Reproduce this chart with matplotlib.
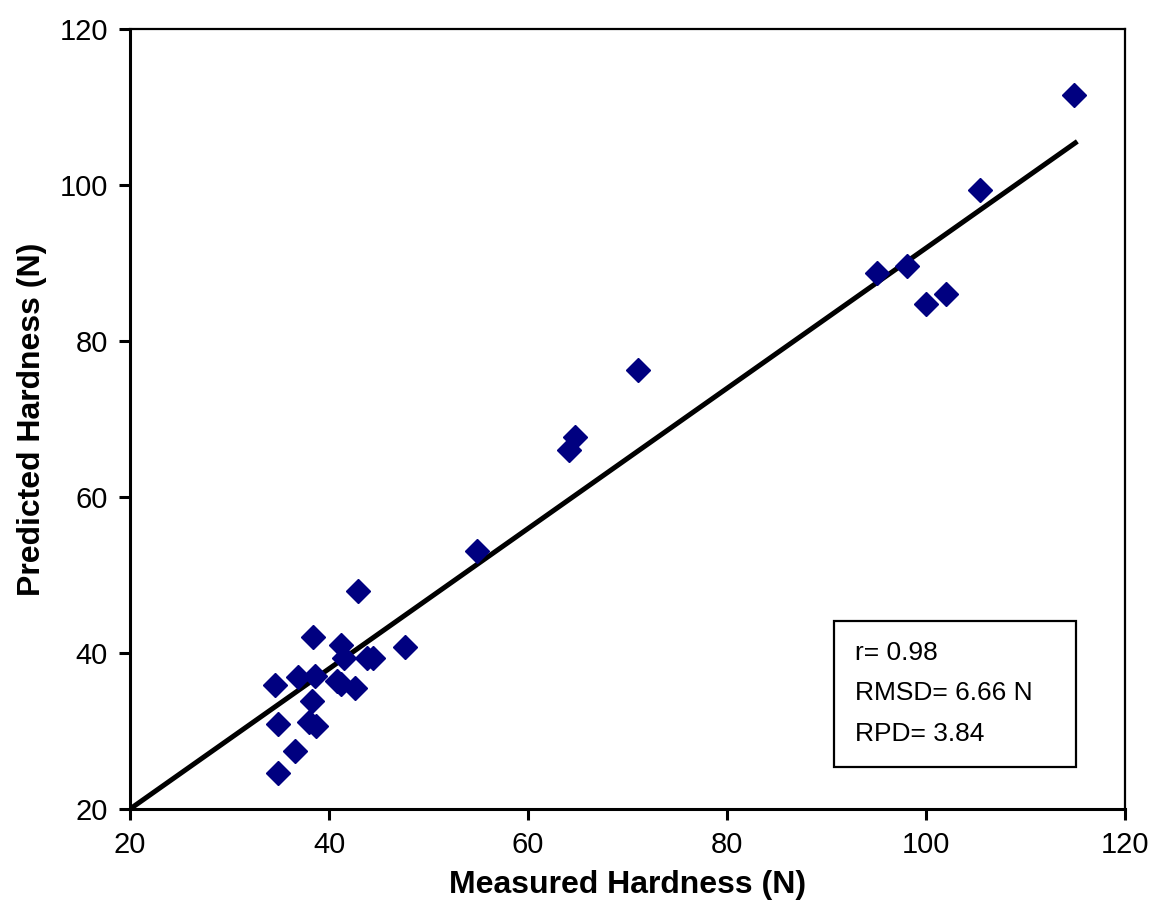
import matplotlib.pyplot as plt

plt.rcParams['font.family'] = ['Liberation Sans', 'DejaVu Sans']

# Measured vs predicted hardness (N)
measured = [42.9, 38.4, 41.2, 41.5, 43.8, 44.4, 47.6, 34.6, 36.9, 38.6,
            40.8, 41.2, 42.6, 38.3, 34.9, 38.0, 38.7, 36.6, 34.9,
            54.9, 64.1, 64.7, 71.1, 95.1, 98.1, 100.0, 102.0, 105.4, 114.9]
predicted = [47.9, 42.1, 41.0, 39.3, 39.4, 39.4, 40.8, 35.9, 36.9, 37.1,
             36.4, 36.0, 35.5, 33.9, 30.9, 31.2, 30.6, 27.4, 24.6,
             53.1, 66.0, 67.7, 76.3, 88.7, 89.6, 84.7, 86.0, 99.4, 111.5]

fit_x = [20, 115]
fit_y = [20, 105.4]

stats_lines = ["r= 0.98", "RMSD= 6.66 N", "RPD= 3.84"]

fig = plt.figure(figsize=(11.54, 9.14), dpi=100)
ax = fig.add_axes([0.1127, 0.1149, 0.8622, 0.8534])

ax.plot(fit_x, fit_y, color='black', linewidth=3.6, zorder=2)
ax.plot(measured, predicted, linestyle='none', marker='D', markersize=12,
        color='#000080', markeredgecolor='#000080', zorder=3)

ax.set_xlim(20, 120)
ax.set_ylim(20, 120)
ax.set_xticks(range(20, 121, 20))
ax.set_yticks(range(20, 121, 20))
for s in ('left', 'bottom'):
    ax.spines[s].set_linewidth(2.2)
for s in ('top', 'right'):
    ax.spines[s].set_linewidth(1.6)
ax.tick_params(axis='both', direction='out', length=8, width=2.2,
               labelsize=21, pad=8)

ax.set_xlabel('Measured Hardness (N)', fontsize=23, fontweight='bold', labelpad=8)
ax.set_ylabel('Predicted Hardness (N)', fontsize=23, fontweight='bold', labelpad=9)

# stats box
box = plt.Rectangle((0.7075, 0.0538), 0.2435, 0.1872, transform=ax.transAxes,
                    fill=False, edgecolor='black', linewidth=1.6, zorder=4)
ax.add_patch(box)
for i, line in enumerate(stats_lines):
    ax.text(0.7286, 0.2 - i * 0.0519, line, transform=ax.transAxes,
            fontsize=19, va='center', ha='left', zorder=5)

fig.savefig('out.png', dpi=100)
